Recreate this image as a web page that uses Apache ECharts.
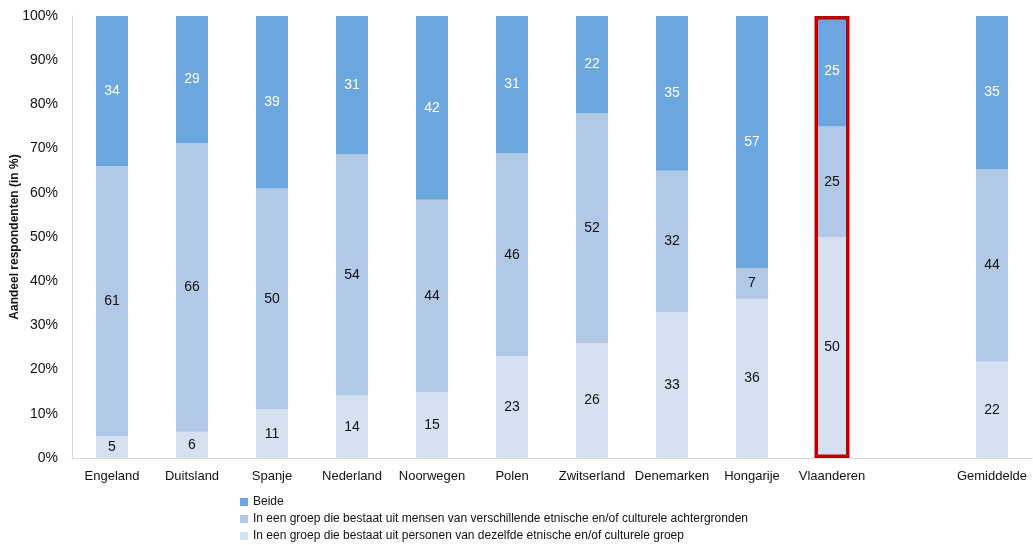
<!DOCTYPE html>
<html>
<head>
<meta charset="utf-8">
<script src="https://cdn.jsdelivr.net/npm/echarts@6/dist/echarts.min.js"></script>
<style>html,body{margin:0;padding:0;background:#fff}#c{width:1033px;height:545px}</style>
</head>
<body>
<div id="c"></div>
<script>
const categories = ['Engeland','Duitsland','Spanje','Nederland','Noorwegen','Polen','Zwitserland','Denemarken','Hongarije','Vlaanderen','','Gemiddelde'];
const dezelfde = [5, 6, 11, 14, 15, 23, 26, 33, 36, 50, null, 22];
const verschillende = [61, 66, 50, 54, 44, 46, 52, 32, 7, 25, null, 44];
const beide = [34, 29, 39, 31, 42, 31, 22, 35, 57, 25, null, 35];
const highlighted = 'Vlaanderen';
const yTicks = [0,10,20,30,40,50,60,70,80,90,100];

const names = {
  beide: 'Beide',
  versch: 'In een groep die bestaat uit mensen van verschillende etnische en/of culturele achtergronden',
  dezelf: 'In een groep die bestaat uit personen van dezelfde etnische en/of culturele groep'
};
const totals = categories.map((c,i)=> (dezelfde[i]||0)+(verschillende[i]||0)+(beide[i]||0));
const pct = arr => arr.map((v,i)=> v==null ? null : {value: v/totals[i]*100, raw: v});
const outline = categories.map(c => c===highlighted ? 100 : null);

const font = 'Liberation Sans, Arial, sans-serif';
const mkLabel = col => ({show:true, position:'inside', color:col, fontSize:14, fontFamily:font,
  formatter: p => p.data && p.data.raw!=null ? String(p.data.raw) : ''});

const chart = echarts.init(document.getElementById('c'));
chart.setOption({
  animation:false,
  grid:{left:72, right:1, top:16, bottom:87, containLabel:false, outerBoundsMode:'none'},
  legend:{
    orient:'vertical', left:235, top:491, height:120, itemWidth:8, itemHeight:8, itemGap:5,
    icon:'rect',
    textStyle:{fontSize:12, color:'#111', fontFamily:font},
    data:[names.beide, names.versch, names.dezelf]
  },
  xAxis:[{
    type:'category', data:categories,
    axisLine:{lineStyle:{color:'#D9D9D9', width:1}},
    axisTick:{show:false},
    axisLabel:{color:'#111', fontSize:13, fontFamily:font, margin:12, interval:0}
  },{
    type:'category', data:categories, show:false
  }],
  yAxis:{
    type:'value', min:0, max:100, interval:10,
    name:'Aandeel respondenten (in %)', nameLocation:'middle', nameGap:51, nameRotate:90,
    nameMoveOverlap:false,
    nameTextStyle:{fontSize:12, fontWeight:'bold', color:'#111', fontFamily:font},
    axisLine:{show:true, lineStyle:{color:'#D9D9D9'}},
    axisTick:{show:false},
    splitLine:{show:false},
    axisLabel:{formatter:'{value}%', color:'#111', fontSize:14, fontFamily:font, margin:14}
  },
  series:[
    {name:names.dezelf, type:'bar', stack:'t', barWidth:32, data:pct(dezelfde),
     itemStyle:{color:'#D5E0F1'}, label:mkLabel('#111')},
    {name:names.versch, type:'bar', stack:'t', barWidth:32, data:pct(verschillende),
     itemStyle:{color:'#B1C8E6'}, label:mkLabel('#111')},
    {name:names.beide, type:'bar', stack:'t', barWidth:32, data:pct(beide),
     itemStyle:{color:'#6BA7DE'}, label:mkLabel('#fff')},
    {name:'outline', type:'bar', xAxisIndex:1, barWidth:35, data:outline, silent:true, z:5,
     itemStyle:{color:'rgba(0,0,0,0)', borderColor:'#C00000', borderWidth:3.5}}
  ]
});
</script>
</body>
</html>
